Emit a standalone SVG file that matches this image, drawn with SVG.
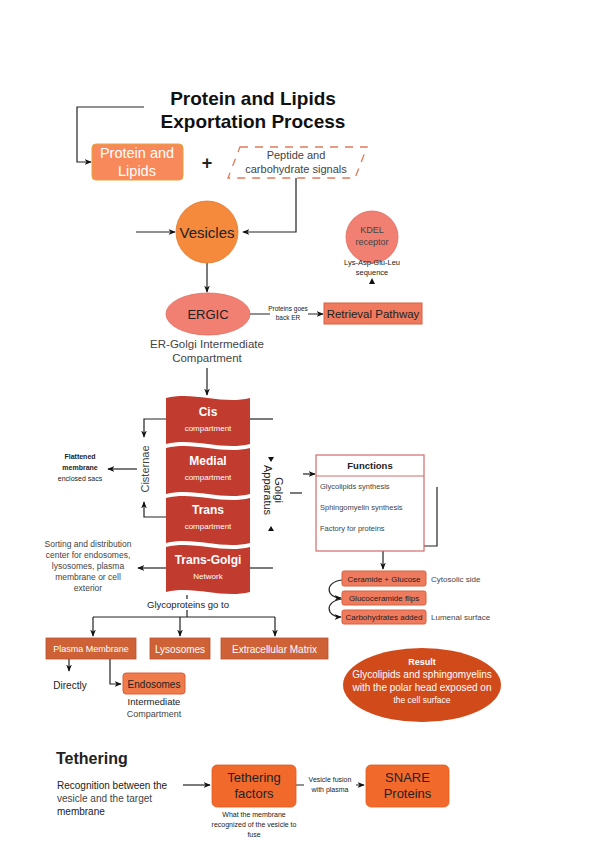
<svg xmlns="http://www.w3.org/2000/svg" width="600" height="848" viewBox="0 0 600 848">
<defs>
<marker id="ah" viewBox="0 0 10 10" refX="9" refY="5" markerWidth="6" markerHeight="6" orient="auto-start-reverse">
<path d="M0,1 L10,5 L0,9 L3,5 Z" fill="#111"/>
</marker>
</defs>
<style>
text{font-family:"Liberation Sans",Arial,sans-serif;}
.c{stroke:#222;stroke-width:1.2;fill:none;}
.ca{stroke:#222;stroke-width:1.2;fill:none;marker-end:url(#ah);}
.w{fill:#fff;}
.d{fill:#222;}
.g{fill:#444;}
.mid{text-anchor:middle;}
.golgi{fill:#C23B2F;}
.cer{fill:#EF7B5F;stroke:#D9603F;stroke-width:1;}
.gp{fill:#CF6137;stroke:#B9542E;stroke-width:0.8;}
</style>
<rect width="600" height="848" fill="#fff"/>

<g id="title">
<text x="253" y="105" class="mid" fill="#111" font-size="19" font-weight="bold">Protein and Lipids</text>
<text x="253" y="128" class="mid" fill="#111" font-size="19" font-weight="bold">Exportation Process</text>
</g>

<g id="connectors">
<path class="ca" d="M144,107 L77,107 L77,162 L91,162"/>
<path class="ca" d="M296,178 L296,232 L243,232"/>
<path class="ca" d="M136,232 L175,232"/>
<path class="ca" d="M207,263 L207,292"/>
<path class="ca" d="M250,314 L323,314"/>
<path class="ca" d="M207,368 L207,395"/>
<path class="ca" d="M166,419 L144,419 L144,437"/>
<path class="ca" d="M166,517 L144,517 L144,502"/>
<path class="c" d="M250,419 L273,419"/>
<path class="c" d="M250,568 L273,568"/>
<path class="ca" d="M137,469 L108,469"/>
<path class="ca" d="M166,568 L138,568"/>
<path class="c" d="M290,493 L302,493"/>
<path class="ca" d="M303,474 L315,474"/>
<path class="ca" d="M437,487 L437,546 L383,546 L383,569"/>
<path class="ca" d="M342,580 C324,582 326,598 341,598"/>
<path class="ca" d="M342,599 C324,601 326,617 341,617"/>
<path class="c" d="M187,595 L187,599"/>
<path class="c" d="M187,610 L187,617"/>
<path class="c" d="M93,617 L275,617"/>
<path class="ca" d="M93,617 L93,636"/>
<path class="ca" d="M180,617 L180,636"/>
<path class="ca" d="M275,617 L275,636"/>
<path class="ca" d="M69,659 L69,671"/>
<path class="ca" d="M110,659 L110,684 L121,684"/>
<path class="ca" d="M183,785 L210,785"/>
<path class="ca" d="M296,785 L364,785"/>
<path d="M372,278 L369,284 L375,284 Z" fill="#111"/>
<path d="M268,457 L274,457 L271,462 Z" fill="#111"/>
<path d="M268,531 L274,531 L271,526 Z" fill="#111"/>
</g>

<g id="protein-lipids">
<rect x="92" y="144" width="91" height="36" rx="4" fill="#F7895A" stroke="#E9A23B" stroke-width="1"/>
<text x="137" y="158" class="mid w" font-size="14.5">Protein and</text>
<text x="137" y="176" class="mid w" font-size="14.5">Lipids</text>
</g>

<text x="207" y="169" class="mid d" font-size="18" font-weight="bold">+</text>

<g id="signals">
<path d="M240,147 L367,147 L355,178 L228,178 Z" fill="none" stroke="#E07B5A" stroke-width="1.3" stroke-dasharray="8,7"/>
<text x="296" y="159" class="mid g" font-size="11">Peptide and</text>
<text x="296" y="173" class="mid g" font-size="11">carbohydrate signals</text>
</g>

<g id="vesicles">
<circle cx="207" cy="232" r="31" fill="#F58A3C" stroke="#E07A30" stroke-width="0.8"/>
<text x="207" y="238" class="mid d" font-size="15">Vesicles</text>
</g>

<g id="kdel">
<circle cx="372" cy="237" r="26" fill="#F28072" stroke="#E06A5C" stroke-width="0.8"/>
<text x="372" y="233" class="mid g" font-size="9">KDEL</text>
<text x="372" y="245" class="mid g" font-size="9">receptor</text>
<text x="372" y="265" class="mid d" font-size="7.5">Lys-Asp-Glu-Leu</text>
<text x="372" y="275" class="mid d" font-size="7.5">sequence</text>
</g>

<g id="ergic">
<ellipse cx="208" cy="314" rx="42" ry="21" fill="#F28072" stroke="#E06A5C" stroke-width="0.8"/>
<text x="208" y="319" class="mid d" font-size="13">ERGIC</text>
<text x="207" y="348" class="mid g" font-size="11.5">ER-Golgi Intermediate</text>
<text x="207" y="362" class="mid g" font-size="11.5">Compartment</text>
</g>

<g id="ergic-label">
<rect x="270" y="305" width="38" height="18" fill="#fff"/>
<text x="288" y="311" class="mid d" font-size="6.5">Proteins goes</text>
<text x="288" y="320" class="mid d" font-size="6.5">back ER</text>
</g>

<g id="retrieval">
<rect x="324" y="303" width="98" height="21" fill="#F07A5E" stroke="#D9603F" stroke-width="1"/>
<text x="373" y="318" class="mid d" font-size="11.5">Retrieval Pathway</text>
</g>

<g id="golgi">
<path class="golgi" d="M166,398 C194,391 222,405 250,398 L250,444 C222,451 194,437 166,444 Z"/>
<path class="golgi" d="M166,448 C194,441 222,455 250,448 L250,494 C222,501 194,487 166,494 Z"/>
<path class="golgi" d="M166,498 C194,491 222,505 250,498 L250,543 C222,550 194,536 166,543 Z"/>
<path class="golgi" d="M166,547 C194,540 222,554 250,547 L250,592 C222,599 194,585 166,592 Z"/>
<text x="208" y="416" class="mid w" font-size="12" font-weight="bold">Cis</text>
<text x="208" y="431" class="mid w" font-size="8">compartment</text>
<text x="208" y="465" class="mid w" font-size="12" font-weight="bold">Medial</text>
<text x="208" y="480" class="mid w" font-size="8">compartment</text>
<text x="208" y="514" class="mid w" font-size="12" font-weight="bold">Trans</text>
<text x="208" y="529" class="mid w" font-size="8">compartment</text>
<text x="208" y="564" class="mid w" font-size="12" font-weight="bold">Trans-Golgi</text>
<text x="208" y="579" class="mid w" font-size="8">Network</text>
</g>

<g id="cisternae">
<text x="0" y="0" class="mid g" font-size="11" transform="translate(149,469) rotate(-90)">Cisternae</text>
</g>

<g id="flattened">
<text x="80" y="459" class="mid d" font-size="7" font-weight="bold">Flattened</text>
<text x="80" y="470" class="mid d" font-size="7" font-weight="bold">membrane</text>
<text x="80" y="481" class="mid d" font-size="7">enclosed sacs</text>
</g>

<g id="golgi-apparatus">
<text x="0" y="0" class="mid d" font-size="11" transform="translate(275,490) rotate(90)">Golgi</text>
<text x="0" y="0" class="mid d" font-size="11" transform="translate(264,490) rotate(90)">Apparatus</text>
</g>

<g id="sorting">
<text x="88" y="547" class="mid g" font-size="8.5">Sorting and distribution</text>
<text x="88" y="558" class="mid g" font-size="8.5">center for endosomes,</text>
<text x="88" y="569" class="mid g" font-size="8.5">lysosomes, plasma</text>
<text x="88" y="580" class="mid g" font-size="8.5">membrane or cell</text>
<text x="88" y="591" class="mid g" font-size="8.5">exterior</text>
</g>

<g id="functions">
<rect x="316" y="455" width="108" height="96" fill="#fff" stroke="#D46A6A" stroke-width="1.2"/>
<line x1="316" y1="476" x2="424" y2="476" stroke="#D46A6A" stroke-width="1.2"/>
<text x="370" y="469" class="mid d" font-size="9.5" font-weight="bold">Functions</text>
<text x="320" y="489" class="g" font-size="7.5">Glycolipids synthesis</text>
<text x="320" y="510" class="g" font-size="7.5">Sphingomyelin synthesis</text>
<text x="320" y="531" class="g" font-size="7.5">Factory for proteins</text>
</g>

<g id="ceramide">
<rect class="cer" x="342" y="571" width="84" height="15" rx="2"/>
<text x="384" y="581.5" class="mid d" font-size="8">Ceramide + Glucose</text>
<text x="431" y="581.5" class="g" font-size="8">Cytosolic side</text>
</g>
<g id="glucoceramide">
<rect class="cer" x="342" y="591" width="84" height="14" rx="2"/>
<text x="384" y="601" class="mid d" font-size="8">Glucoceramide flips</text>
</g>
<g id="carbohydrates">
<rect class="cer" x="342" y="610" width="84" height="14" rx="2"/>
<text x="384" y="620" class="mid d" font-size="8">Carbohydrates added</text>
<text x="431" y="620" class="g" font-size="8">Lumenal surface</text>
</g>

<g id="result">
<ellipse cx="422" cy="685" rx="79" ry="37" fill="#D14A1A"/>
<text x="422" y="665" class="mid w" font-size="9" font-weight="bold">Result</text>
<text x="422" y="678" class="mid w" font-size="10">Glycolipids and sphingomyelins</text>
<text x="422" y="691" class="mid w" font-size="10">with the polar head exposed on</text>
<text x="422" y="703" class="mid w" font-size="8.5">the cell surface</text>
</g>

<text x="188" y="608" class="mid d" font-size="9.5">Glycoproteins go to</text>

<g id="plasma-membrane">
<rect class="gp" x="46" y="638" width="90" height="21"/>
<text x="91" y="652" class="mid w" font-size="9">Plasma Membrane</text>
<text x="70" y="689" class="mid d" font-size="10">Directly</text>
</g>
<g id="lysosomes">
<rect class="gp" x="150" y="638" width="60" height="21"/>
<text x="180" y="652.5" class="mid w" font-size="10">Lysosomes</text>
</g>
<g id="ecm">
<rect class="gp" x="221" y="638" width="107" height="21"/>
<text x="274.5" y="652.5" class="mid w" font-size="10">Extracellular Matrix</text>
</g>

<g id="endosomes">
<rect x="123" y="673" width="62" height="21" rx="3" fill="#EF7B4A" stroke="#D9603F" stroke-width="1"/>
<text x="154" y="687.5" class="mid d" font-size="10">Endosomes</text>
<text x="154" y="705" class="mid d" font-size="9.5">Intermediate</text>
<text x="154" y="717" class="mid g" font-size="9">Compartment</text>
</g>

<g id="tethering-title">
<text x="56" y="764" class="d" font-size="16" font-weight="bold">Tethering</text>
<text x="57" y="789" class="d" font-size="10">Recognition between the</text>
<text x="57" y="802" class="g" font-size="10">vesicle and the target</text>
<text x="57" y="815" class="d" font-size="10">membrane</text>
</g>

<g id="tethering-factors">
<rect x="212" y="765" width="84" height="42" rx="5" fill="#F26A2B" stroke="#E05A20" stroke-width="0.8"/>
<text x="254" y="782" class="mid d" font-size="13">Tethering</text>
<text x="254" y="798" class="mid d" font-size="13">factors</text>
<text x="254" y="817" class="mid d" font-size="7">What the membrane</text>
<text x="254" y="827" class="mid d" font-size="7">recognized of the vesicle to</text>
<text x="254" y="837" class="mid d" font-size="7">fuse</text>
</g>

<g id="fusion-label">
<rect x="304" y="775" width="52" height="19" fill="#fff"/>
<text x="330" y="782" class="mid d" font-size="7">Vesicle fusion</text>
<text x="330" y="792" class="mid d" font-size="7">with plasma</text>
</g>

<g id="snare">
<rect x="366" y="765" width="83" height="42" rx="5" fill="#F26A2B" stroke="#E05A20" stroke-width="0.8"/>
<text x="407.5" y="782" class="mid d" font-size="13">SNARE</text>
<text x="407.5" y="798" class="mid d" font-size="13">Proteins</text>
</g>
</svg>
